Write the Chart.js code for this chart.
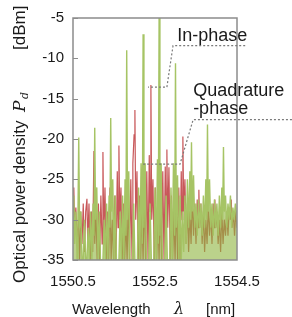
<!DOCTYPE html>
<html>
<head>
<meta charset="utf-8">
<script src="https://cdn.jsdelivr.net/npm/chart.js@4.4.1/dist/chart.umd.min.js"></script>
<style>
  html, body { margin: 0; padding: 0; background: #fff; }
</style>
</head>
<body>
<canvas id="spec" width="292" height="317"></canvas>
<script>
// tick labels
const xTicks = [1550.5, 1552.5, 1554.5];
const yTicks = [-35, -30, -25, -20, -15, -10, -5];

// in-phase comb (green): wavelength [nm] / power [dBm]
const greenWl = [1550.50,1550.52,1550.54,1550.57,1550.60,1550.62,1550.64,1550.66,1550.69,1550.72,1550.75,1550.78,1550.81,1550.84,1550.87,1550.90,1550.93,1550.96,1550.99,1551.01,
  1551.03,1551.05,1551.08,1551.11,1551.14,1551.17,1551.20,1551.23,1551.26,1551.29,1551.32,1551.35,1551.38,1551.40,1551.42,1551.44,1551.47,1551.50,1551.53,1551.56,
  1551.59,1551.62,1551.65,1551.68,1551.71,1551.74,1551.77,1551.79,1551.81,1551.83,1551.86,1551.89,1551.92,1551.95,1551.98,1552.01,1552.04,1552.07,1552.10,1552.13,
  1552.16,1552.19,1552.21,1552.23,1552.26,1552.29,1552.32,1552.35,1552.38,1552.41,1552.44,1552.47,1552.50,1552.53,1552.56,1552.58,1552.60,1552.62,1552.65,1552.68,
  1552.71,1552.74,1552.77,1552.80,1552.83,1552.86,1552.89,1552.92,1552.95,1552.98,1553.00,1553.02,1553.05,1553.08,1553.11,1553.14,1553.17,1553.20,1553.23,1553.26,
  1553.29,1553.32,1553.35,1553.37,1553.39,1553.41,1553.44,1553.47,1553.50,1553.53,1553.56,1553.59,1553.62,1553.65,1553.68,1553.71,1553.74,1553.76,1553.78,1553.80,
  1553.83,1553.86,1553.89,1553.92,1553.95,1553.98,1554.01,1554.04,1554.07,1554.10,1554.13,1554.15,1554.17,1554.19,1554.22,1554.25,1554.28,1554.31,1554.34,1554.37,
  1554.40,1554.43,1554.46,1554.50];
const greenDb = [-31,-27,-33,-29,-35,-30,-19.8,-31,-29,-35,-35,-30,-35,-35,-31,-35,-29,-35,-28,-32,
  -18.6,-30,-26,-35,-29,-35,-35,-35,-30,-35,-28,-35,-27,-31,-17.4,-29,-25,-35,-27,-35,
  -35,-35,-29,-35,-27,-35,-25,-32,-9.0,-30,-24,-35,-35,-35,-28,-35,-35,-35,-26,-35,
  -23,-33,-7.0,-31,-23,-35,-35,-35,-28,-35,-35,-35,-26,-35,-22.5,-33,-5.0,-32,-23,-35,
  -35,-35,-27,-35,-35,-35,-26,-35,-23,-32,-10.6,-31,-24.5,-35,-27,-35,-29,-34,-27,-33,
  -25,-31,-24,-30,-20.4,-29,-24.5,-31,-28,-32,-27.5,-31,-28,-32,-27,-31,-25,-30,-18.2,-29,
  -25,-31,-28,-32,-27.5,-31,-28,-32,-27,-31,-26,-30,-21.0,-29,-27,-31,-28,-30,-27,-31,
  -28.5,-30,-28,-30];

// quadrature comb (red)
const redWl = [1550.50,1550.52,1550.54,1550.57,1550.60,1550.63,1550.66,1550.69,1550.72,1550.75,1550.78,1550.81,1550.84,1550.86,1550.89,1550.92,1550.95,1550.98,1551.01,1551.03,
  1551.06,1551.09,1551.12,1551.15,1551.18,1551.21,1551.23,1551.25,1551.28,1551.31,1551.34,1551.37,1551.40,1551.43,1551.46,1551.49,1551.52,1551.55,1551.58,1551.60,
  1551.62,1551.64,1551.67,1551.70,1551.73,1551.76,1551.79,1551.82,1551.85,1551.88,1551.91,1551.94,1551.96,1551.99,1552.01,1552.03,1552.06,1552.09,1552.12,1552.15,
  1552.18,1552.21,1552.24,1552.27,1552.30,1552.33,1552.36,1552.38,1552.40,1552.42,1552.45,1552.48,1552.51,1552.54,1552.57,1552.60,1552.63,1552.66,1552.69,1552.72,
  1552.75,1552.77,1552.79,1552.81,1552.84,1552.87,1552.90,1552.93,1552.96,1552.99,1553.02,1553.05,1553.08,1553.11,1553.14,1553.16,1553.18,1553.20,1553.23,1553.26,
  1553.29,1553.32,1553.35,1553.38,1553.41,1553.44,1553.47,1553.50,1553.53,1553.55,1553.57,1553.59,1553.62,1553.65,1553.68,1553.71,1553.74,1553.77,1553.80,1553.83,
  1553.86,1553.89,1553.92,1553.94,1553.96,1553.98,1554.01,1554.04,1554.07,1554.10,1554.13,1554.16,1554.19,1554.22,1554.25,1554.28,1554.31,1554.34,1554.36,1554.38,
  1554.41,1554.44,1554.47,1554.50];
const redDb = [-29,-26,-31,-28.5,-33,-30,-35,-29,-33,-28,-34,-29,-27.4,-33,-28,-35,-29,-34,-21.5,-33,
  -29,-35,-28,-35,-27,-33,-21.6,-32,-26,-35,-29,-35,-26,-35,-30,-35,-27,-35,-24,-31,
  -20.8,-30,-26,-35,-28,-35,-30,-35,-27,-35,-25,-35,-23,-19.5,-16.4,-30,-24,-35,-27,-35,
  -29,-35,-26,-35,-24,-35,-22,-29,-13.3,-30,-25,-35,-26,-35,-29,-35,-27,-35,-24,-35,
  -23.4,-30,-21.3,-31,-23.5,-35,-27,-35,-29,-35,-27,-35,-26,-35,-24,-30,-19.7,-29,-25,-33,
  -28,-34,-29,-33,-27,-32,-28,-33,-27.5,-31,-26.3,-31,-28,-33,-29,-34,-30,-33,-28,-32,
  -29,-33,-28,-31,-27.5,-31,-29,-33,-30,-34,-29,-33,-30,-32,-29,-32,-28.5,-30,-27.5,-31,
  -29,-32,-29,-31];

// leader lines for the two labels, in data coordinates [nm, dBm]
const inPhaseLeader = [[1554.70, -8.43], [1552.94, -8.43], [1552.79, -13.57], [1552.33, -13.57]];
const quadLeader    = [[1555.84, -17.61], [1553.43, -17.61], [1553.11, -23.12], [1552.21, -23.12]];
const labels = [
  { text: 'In-phase',   at: [1553.04, -7.82] },
  { text: 'Quadrature', at: [1553.43, -14.67] },
  { text: '-phase',     at: [1553.43, -16.88] }
];

const toXY = (wl, db) => wl.map((w, i) => ({ x: w, y: db[i] }));
const FONT = '"Liberation Sans", Arial, sans-serif';

const decor = {
  id: 'decor',
  afterDatasetsDraw(chart) {
    const { ctx, chartArea: a, scales: { x, y } } = chart;
    ctx.save();
    // inward ticks on the left edge
    ctx.strokeStyle = '#8c8c8c';
    ctx.lineWidth = 1;
    yTicks.forEach(v => {
      const py = Math.round(y.getPixelForValue(v)) + 0.5;
      ctx.beginPath(); ctx.moveTo(a.left, py); ctx.lineTo(a.left + 5, py); ctx.stroke();
    });
    // plot frame
    ctx.lineWidth = 1.5;
    ctx.strokeRect(a.left, a.top, a.right - a.left, a.bottom - a.top);

    // dotted leaders
    ctx.setLineDash([2, 2]);
    ctx.strokeStyle = '#7a7a7a';
    ctx.lineWidth = 1.2;
    [inPhaseLeader, quadLeader].forEach(pts => {
      ctx.beginPath();
      pts.forEach(([w, d], i) => {
        const px = x.getPixelForValue(w), py = y.getPixelForValue(d);
        i ? ctx.lineTo(px, py) : ctx.moveTo(px, py);
      });
      ctx.stroke();
    });
    ctx.setLineDash([]);

    ctx.fillStyle = '#1a1a1a';
    ctx.font = '18px ' + FONT;
    ctx.textBaseline = 'alphabetic';
    labels.forEach(l => ctx.fillText(l.text, x.getPixelForValue(l.at[0]), y.getPixelForValue(l.at[1])));

    // x axis title
    ctx.font = '15px ' + FONT;
    ctx.fillText('Wavelength', 72, 314);
    ctx.font = 'italic 16px "DejaVu Serif", serif';
    ctx.fillText('λ', 174, 314);
    ctx.font = '15px ' + FONT;
    ctx.fillText('[nm]', 206, 314);

    // y axis title, rotated
    ctx.translate(25, 283);
    ctx.rotate(-Math.PI / 2);
    ctx.font = '17px ' + FONT;
    ctx.fillText('Optical power density', 0, 0);
    ctx.font = 'italic 17px "DejaVu Serif", serif';
    ctx.fillText('P', 171, 0);
    ctx.font = 'italic 11px "DejaVu Serif", serif';
    ctx.fillText('d', 184, 3);
    ctx.font = '17px ' + FONT;
    ctx.fillText('[dBm]', 233, 0);
    ctx.restore();
  }
};

new Chart(document.getElementById('spec'), {
  type: 'line',
  data: {
    datasets: [
      { label: 'In-phase', data: toXY(greenWl, greenDb), borderColor: '#a6c465', borderWidth: 1.4,
        backgroundColor: 'rgba(141,180,62,0.6)', fill: 'start', pointRadius: 0, tension: 0 },
      { label: 'Quadrature-phase', data: toXY(redWl, redDb), borderColor: '#c8585a', borderWidth: 1.2,
        fill: false, pointRadius: 0, tension: 0 }
    ]
  },
  options: {
    responsive: false,
    animation: false,
    layout: { padding: { top: 15, right: 55, bottom: 0, left: 0 } },
    plugins: { legend: { display: false }, tooltip: { enabled: false } },
    scales: {
      x: {
        type: 'linear', min: 1550.5, max: 1554.5,
        afterBuildTicks: s => { s.ticks = xTicks.map(v => ({ value: v })); },
        afterFit: s => { s.height = 57; },
        grid: { display: false, drawTicks: false },
        border: { display: false },
        ticks: { color: '#1a1a1a', font: { family: FONT, size: 15 }, padding: 13,
          maxRotation: 0, callback: v => v.toFixed(1) }
      },
      y: {
        min: -35, max: -5,
        afterBuildTicks: s => { s.ticks = yTicks.map(v => ({ value: v })); },
        afterFit: s => { s.width = 73; },
        grid: { display: false, drawTicks: false },
        border: { display: false },
        ticks: { color: '#1a1a1a', font: { family: FONT, size: 15 }, padding: 9 }
      }
    }
  },
  plugins: [decor]
});
</script>
</body>
</html>
